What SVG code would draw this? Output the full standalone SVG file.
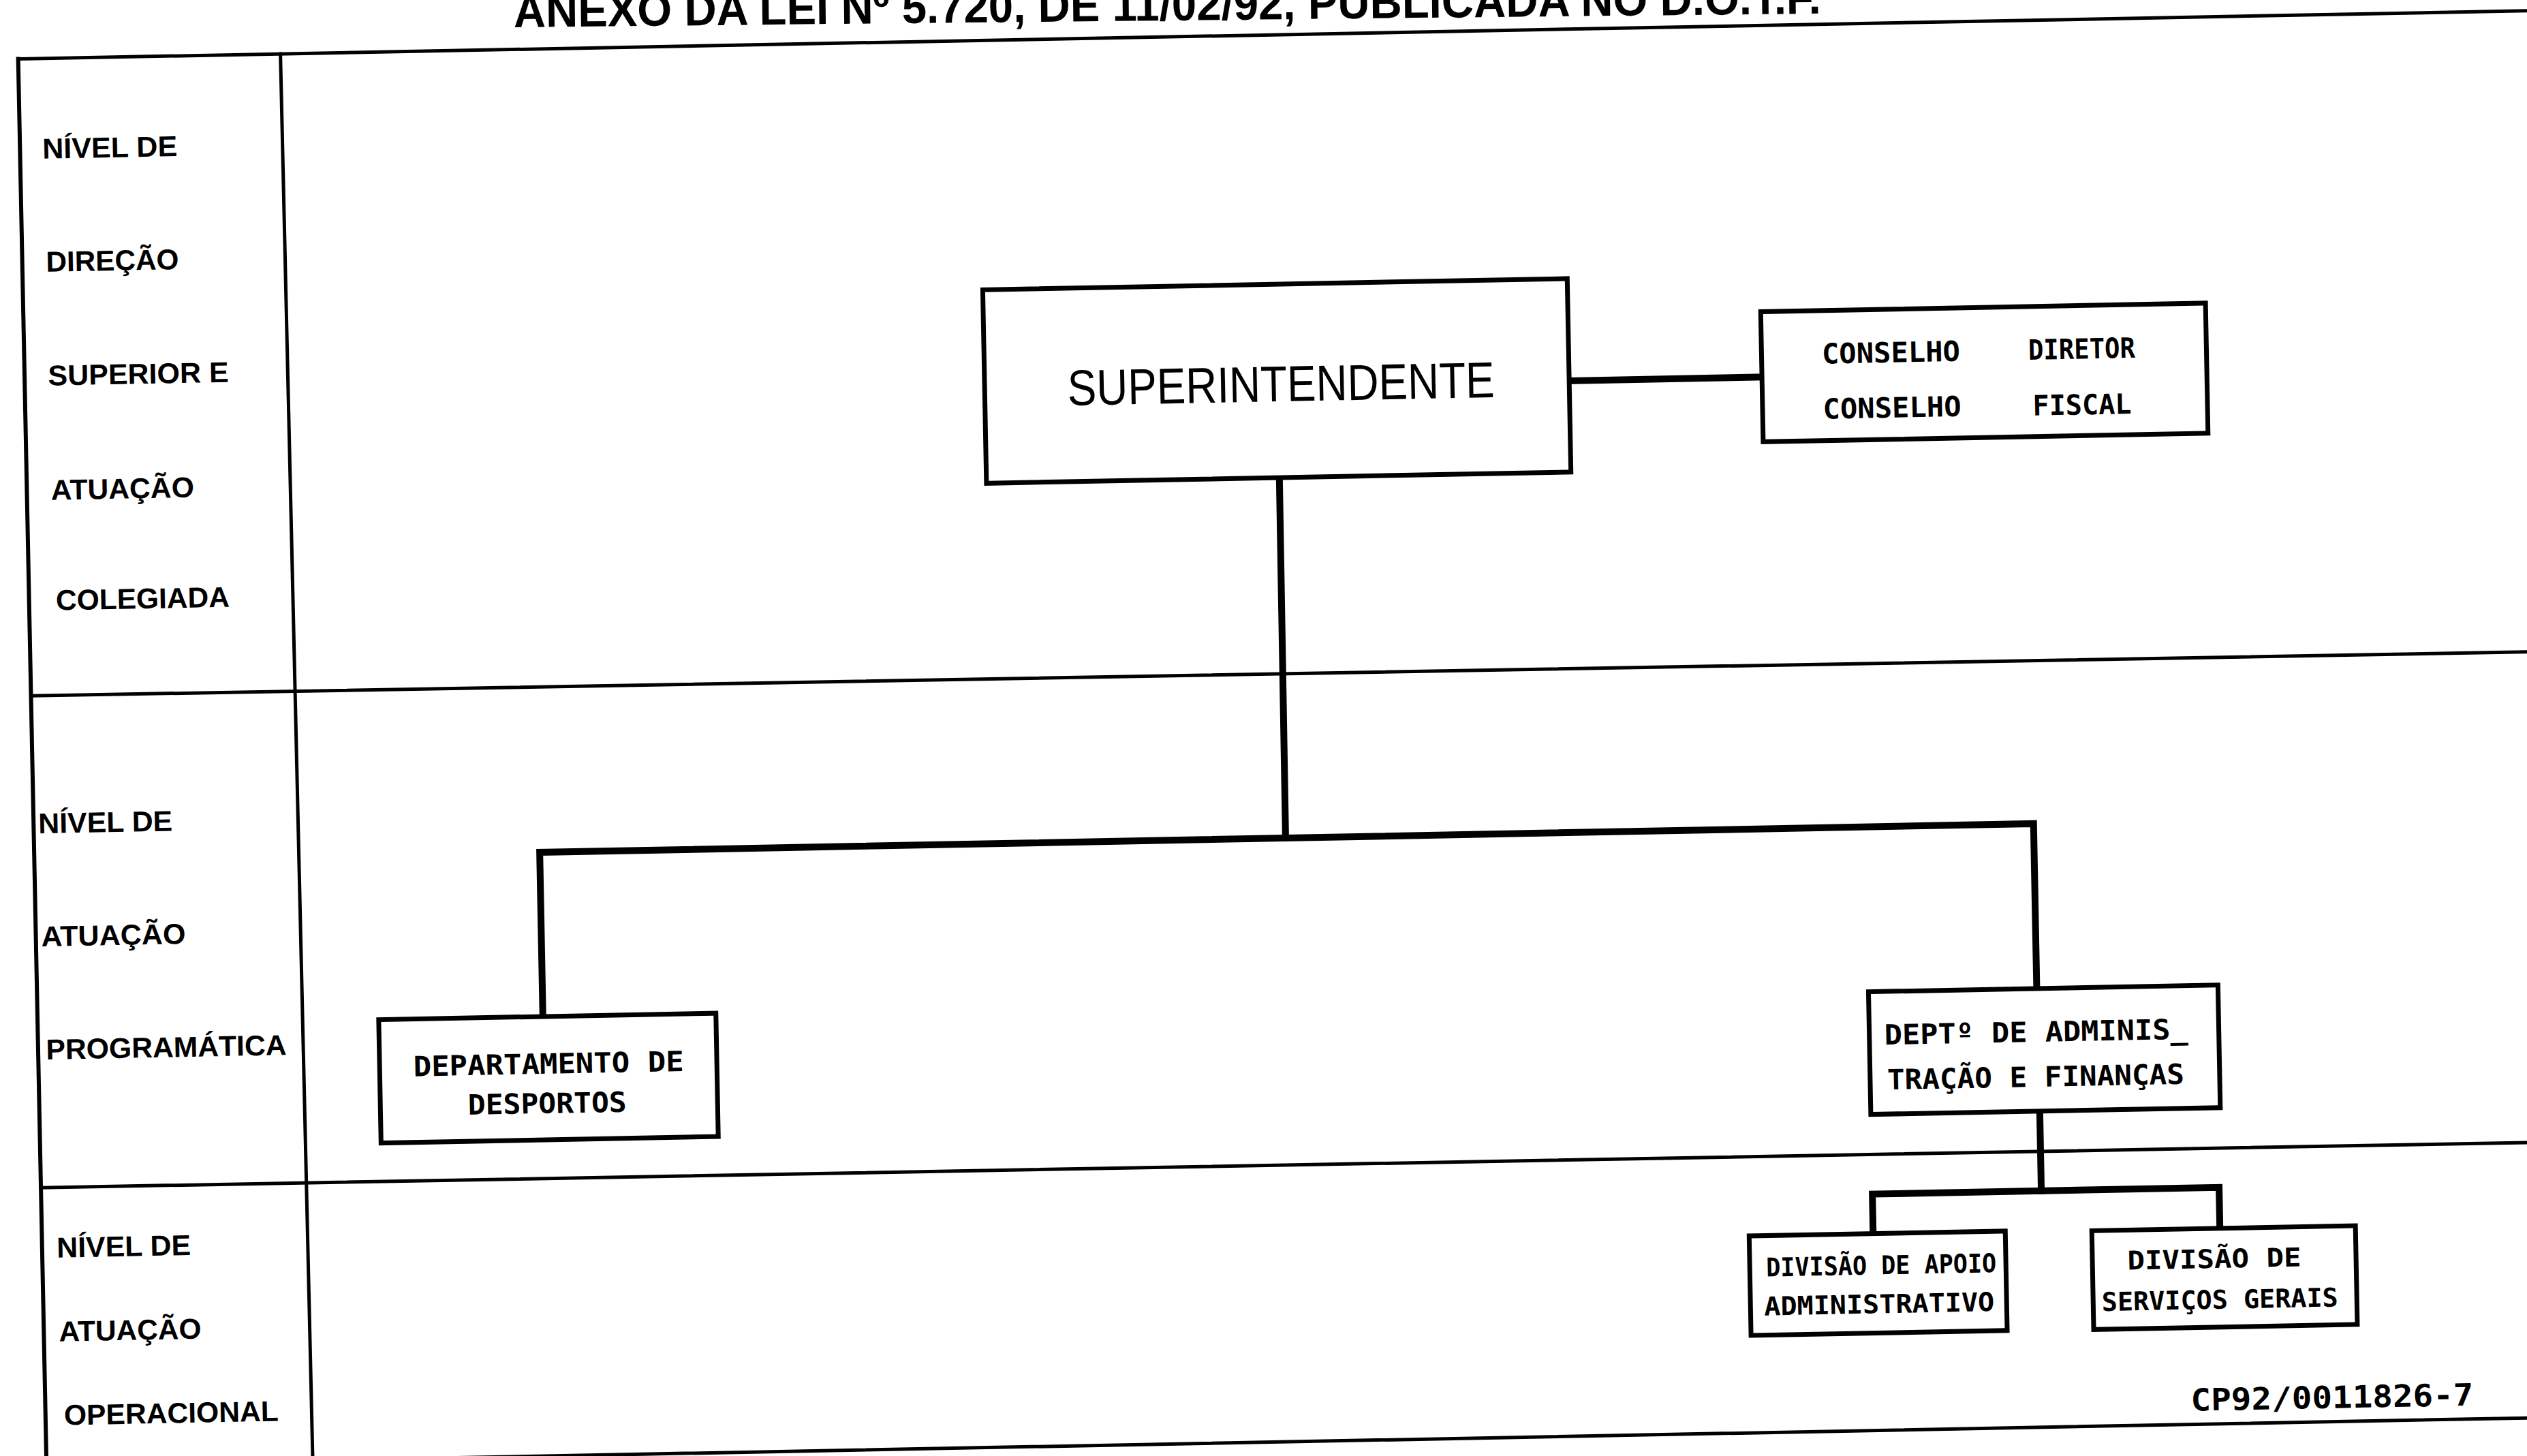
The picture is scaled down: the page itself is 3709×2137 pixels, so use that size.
<svg xmlns="http://www.w3.org/2000/svg" width="3709" height="2137" viewBox="0 0 3709 2137">
<style>
.tbl{stroke:#000;stroke-width:5;fill:none;stroke-linecap:square}
.box{fill:#fff;stroke:#000;stroke-width:7}
.conn{stroke:#000;stroke-width:10;fill:none;stroke-linecap:square}
.lvl{font-family:"Liberation Sans",Arial,sans-serif;font-weight:bold;font-size:42px;fill:#000}
.tw{font-family:"DejaVu Sans Mono","Liberation Mono",monospace;font-weight:bold;font-size:41px;fill:#000;text-anchor:middle}
.sup{font-family:"Liberation Sans",Arial,sans-serif;font-size:74px;fill:#000;text-anchor:middle}
.title{font-family:"Liberation Sans",Arial,sans-serif;font-weight:bold;font-size:68px;fill:#000}
</style>
<rect width="3709" height="2137" fill="#fff"/>
<text class="title" transform="rotate(-0.6 754 40)" x="754" y="40" textLength="1919" lengthAdjust="spacingAndGlyphs">ANEXO DA LEI Nº 5.720, DE 11/02/92, PUBLICADA NO D.O.T.F.</text>
<g transform="rotate(-1.1)">
  <g id="table">
    <path class="tbl" d="M27 87 L3800 87"/>
    <path class="tbl" style="stroke-width:6" d="M25 87 L27 2200"/>
    <path class="tbl" d="M410 87 L418 2200"/>
    <path class="tbl" d="M26 1022 L3800 1028"/>
    <path class="tbl" d="M26 1744 L3800 1748"/>
    <path class="tbl" d="M27 2152 L3800 2152"/>
  </g>
  <g id="level-direcao">
    <text class="lvl" x="58" y="234" textLength="198" lengthAdjust="spacingAndGlyphs">NÍVEL DE</text>
    <text class="lvl" x="60" y="400" textLength="195" lengthAdjust="spacingAndGlyphs">DIREÇÃO</text>
    <text class="lvl" x="60" y="567" textLength="265" lengthAdjust="spacingAndGlyphs">SUPERIOR E</text>
    <text class="lvl" x="61" y="735" textLength="210" lengthAdjust="spacingAndGlyphs">ATUAÇÃO</text>
    <text class="lvl" x="65" y="897" textLength="255" lengthAdjust="spacingAndGlyphs">COLEGIADA</text>
  </g>
  <g id="level-programatica">
    <text class="lvl" x="33" y="1224" textLength="197" lengthAdjust="spacingAndGlyphs">NÍVEL DE</text>
    <text class="lvl" x="34" y="1390" textLength="212" lengthAdjust="spacingAndGlyphs">ATUAÇÃO</text>
    <text class="lvl" x="38" y="1556" textLength="353" lengthAdjust="spacingAndGlyphs">PROGRAMÁTICA</text>
  </g>
  <g id="level-operacional">
    <text class="lvl" x="48" y="1847" textLength="197" lengthAdjust="spacingAndGlyphs">NÍVEL DE</text>
    <text class="lvl" x="49" y="1970" textLength="209" lengthAdjust="spacingAndGlyphs">ATUAÇÃO</text>
    <text class="lvl" x="54" y="2093" textLength="315" lengthAdjust="spacingAndGlyphs">OPERACIONAL</text>
  </g>
  <g id="connectors">
    <path class="conn" d="M2292 603 L2575 603"/>
    <path class="conn" d="M1864 737 L1863 1266"/>
    <path class="conn" d="M768 1507 L768 1266 L2961 1266 L2961 1508"/>
    <path class="conn" d="M2962 1688 L2962 1805"/>
    <path class="conn" d="M2714 1863 L2714 1805 L3223 1805 L3223 1865"/>
  </g>
  <g id="superintendente">
    <rect class="box" x="1434" y="453" width="858" height="284"/>
    <text class="sup" x="1869" y="625" textLength="627" lengthAdjust="spacingAndGlyphs">SUPERINTENDENTE</text>
  </g>
  <g id="conselhos">
    <rect class="box" x="2575" y="507" width="653" height="191"/>
    <text class="tw" x="2765" y="585" textLength="203" lengthAdjust="spacingAndGlyphs">CONSELHO</text>
    <text class="tw" x="3045" y="585" textLength="157" lengthAdjust="spacingAndGlyphs">DIRETOR</text>
    <text class="tw" x="2765" y="666" textLength="203" lengthAdjust="spacingAndGlyphs">CONSELHO</text>
    <text class="tw" x="3044" y="667" textLength="145" lengthAdjust="spacingAndGlyphs">FISCAL</text>
  </g>
  <g id="departamento-desportos">
    <rect class="box" x="527" y="1507" width="495" height="181"/>
    <text class="tw" x="775" y="1591" textLength="397" lengthAdjust="spacingAndGlyphs">DEPARTAMENTO DE</text>
    <text class="tw" x="772" y="1649" textLength="233" lengthAdjust="spacingAndGlyphs">DESPORTOS</text>
  </g>
  <g id="dept-administracao-financas">
    <rect class="box" x="2714" y="1508" width="513" height="180"/>
    <text class="tw" x="2959" y="1586" textLength="446" lengthAdjust="spacingAndGlyphs">DEPTº DE ADMINIS_</text>
    <text class="tw" x="2957" y="1652" textLength="436" lengthAdjust="spacingAndGlyphs">TRAÇÃO E FINANÇAS</text>
  </g>
  <g id="divisao-apoio">
    <rect class="box" x="2532" y="1863" width="376" height="146"/>
    <text class="tw" style="font-size:38px" x="2725" y="1923" textLength="338" lengthAdjust="spacingAndGlyphs">DIVISÃO DE APOIO</text>
    <text class="tw" style="font-size:38px" x="2721" y="1980" textLength="338" lengthAdjust="spacingAndGlyphs">ADMINISTRATIVO</text>
  </g>
  <g id="divisao-servicos">
    <rect class="box" x="3035" y="1865" width="387" height="145"/>
    <text class="tw" style="font-size:38px" x="3214" y="1923" textLength="255" lengthAdjust="spacingAndGlyphs">DIVISÃO DE</text>
    <text class="tw" style="font-size:38px" x="3221" y="1983" textLength="347" lengthAdjust="spacingAndGlyphs">SERVIÇOS GERAIS</text>
  </g>
  <g id="codigo">
    <text class="tw" style="font-size:45px" x="3383" y="2132" textLength="415" lengthAdjust="spacingAndGlyphs">CP92/0011826-7</text>
  </g>
</g>
</svg>
